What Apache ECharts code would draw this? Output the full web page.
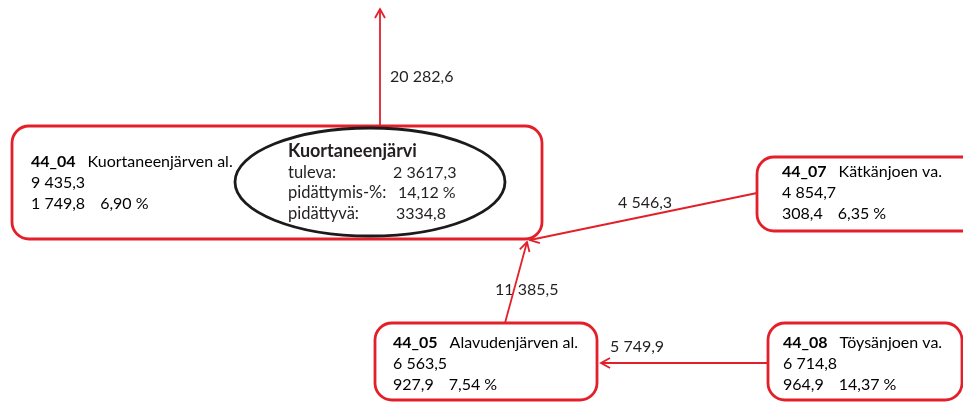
<!DOCTYPE html>
<html>
<head>
<meta charset="utf-8">
<title>Kuortaneenjärvi</title>
<script src="https://cdn.jsdelivr.net/npm/echarts@6/dist/echarts.min.js"></script>
<style>
html, body { margin: 0; padding: 0; background: #fff; }
#main { width: 963px; height: 403px; }
</style>
</head>
<body>
<div id="main"></div>
<script>
// valuma-alueet
const areaIds = ['44_04', '44_07', '44_05', '44_08'];
const areaNames = ['Kuortaneenjärven al.', 'Kätkänjoen va.', 'Alavudenjärven al.', 'Töysänjoen va.'];
const areaTotals = ['9 435,3', '4 854,7', '6 563,5', '6 714,8'];
const areaRetained = ['1 749,8', '308,4', '927,9', '964,9'];
const areaShares = ['6,90 %', '6,35 %', '7,54 %', '14,37 %'];

// järvi
const lakeName = 'Kuortaneenjärvi';
const lakeRows = ['tuleva:', 'pidättymis-%:', 'pidättyvä:'];
const lakeValues = ['2 3617,3', '14,12 %', '3334,8'];

// virtaamat (ylös, 44_07 -> 44_04, 44_05 -> 44_04, 44_08 -> 44_05)
const flowValues = ['20 282,6', '4 546,3', '11 385,5', '5 749,9'];

// --- layout (pikseleinä) ---
const RED = '#e3202a';
const INK = '#231f20';
const FONT = 'Lato';
const boxLayout = [[12, 126, 530, 113], [757, 157, 230, 74], [375, 323, 222, 77], [768, 323, 194, 77]];
const textLayout = [[31, 162], [782, 172], [393, 343], [783, 343]];
const lakeLayout = { cx: 370, cy: 182, rx: 135, ry: 54, x: 288, y: 151, step: 20.5, valueX: [393, 398, 396] };
const flowLayout = [
  { from: [380, 126], to: [380, 9], label: [390, 77] },
  { from: [757, 193], to: [530, 240], label: [618, 203] },
  { from: [505, 323], to: [527, 242], label: [495, 290] },
  { from: [768, 363], to: [601, 363], label: [610, 347] }
];

const chart = echarts.init(document.getElementById('main'));

const rich = {
  b: { fontFamily: FONT, fontSize: 16, fontWeight: 'bold', color: INK, lineHeight: 21 },
  r: { fontFamily: FONT, fontSize: 16, color: INK, lineHeight: 21 },
  g1: { width: 12, lineHeight: 21 },
  g2: { width: 15, lineHeight: 21 }
};

function renderArea(params, api) {
  const i = api.value(0);
  const b = boxLayout[i];
  const p0 = api.coord([b[0], b[1]]);
  const p1 = api.coord([b[0] + b[2], b[1] + b[3]]);
  const tp = api.coord(textLayout[i]);
  const children = [{
    type: 'rect',
    shape: { x: p0[0], y: p0[1], width: p1[0] - p0[0], height: p1[1] - p0[1], r: 17 },
    style: { fill: '#fff', stroke: RED, lineWidth: 2.8 }
  }, {
    type: 'text',
    x: tp[0], y: tp[1] - 10.5,
    style: {
      text: '{b|' + areaIds[i] + '}{g1|}{r|' + areaNames[i] + '}\n{r|' + areaTotals[i] + '}\n{r|' +
        areaRetained[i] + '}{g2|}{r|' + areaShares[i] + '}',
      rich: rich,
      verticalAlign: 'top'
    }
  }];
  if (i === 0) {
    const c = api.coord([lakeLayout.cx, lakeLayout.cy]);
    children.push({
      type: 'ellipse',
      shape: { cx: c[0], cy: c[1], rx: lakeLayout.rx, ry: lakeLayout.ry },
      style: { fill: '#fff', stroke: '#1c1a1a', lineWidth: 2.8 }
    });
    const t = api.coord([lakeLayout.x, lakeLayout.y]);
    children.push({
      type: 'text', x: t[0], y: t[1],
      style: { text: lakeName, font: 'bold 18px ' + FONT, fill: INK, verticalAlign: 'middle' }
    });
    lakeRows.forEach(function (row, k) {
      const y = t[1] + lakeLayout.step * (k + 1) + 1;
      children.push({
        type: 'text', x: t[0], y: y,
        style: { text: row, font: '16.5px ' + FONT, fill: INK, verticalAlign: 'middle' }
      });
      children.push({
        type: 'text', x: api.coord([lakeLayout.valueX[k], 0])[0], y: y,
        style: { text: lakeValues[k], font: '16px ' + FONT, fill: INK, verticalAlign: 'middle' }
      });
    });
  }
  return { type: 'group', children: children };
}

function renderFlow(params, api) {
  const i = api.value(0);
  const f = flowLayout[i];
  const a = api.coord(f.from);
  const b = api.coord(f.to);
  const l = api.coord(f.label);
  const dx = b[0] - a[0], dy = b[1] - a[1];
  const len = Math.sqrt(dx * dx + dy * dy);
  const ux = dx / len, uy = dy / len;
  const L = 9, W = 5;
  return {
    type: 'group',
    children: [{
      type: 'text', x: l[0], y: l[1],
      style: { text: flowValues[i], font: '16px ' + FONT, fill: INK, verticalAlign: 'middle' }
    }, {
      type: 'line',
      shape: { x1: a[0], y1: a[1], x2: b[0], y2: b[1] },
      style: { stroke: RED, lineWidth: 1.8 }
    }, {
      type: 'polyline',
      shape: { points: [
        [b[0] - ux * L - uy * W, b[1] - uy * L + ux * W],
        [b[0], b[1]],
        [b[0] - ux * L + uy * W, b[1] - uy * L - ux * W]
      ] },
      style: { stroke: RED, lineWidth: 1.8, fill: null }
    }]
  };
}

chart.setOption({
  animation: false,
  grid: { left: 0, right: 0, top: 0, bottom: 0 },
  xAxis: { type: 'value', min: 0, max: 963, show: false },
  yAxis: { type: 'value', min: 0, max: 403, inverse: true, show: false },
  series: [{
    type: 'custom',
    coordinateSystem: 'cartesian2d',
    renderItem: renderArea,
    clip: false,
    data: areaIds.map(function (id, i) { return [i, 0]; })
  }, {
    type: 'custom',
    coordinateSystem: 'cartesian2d',
    renderItem: renderFlow,
    clip: false,
    z: 3,
    data: flowValues.map(function (v, i) { return [i, 0]; })
  }]
});
</script>
</body>
</html>
